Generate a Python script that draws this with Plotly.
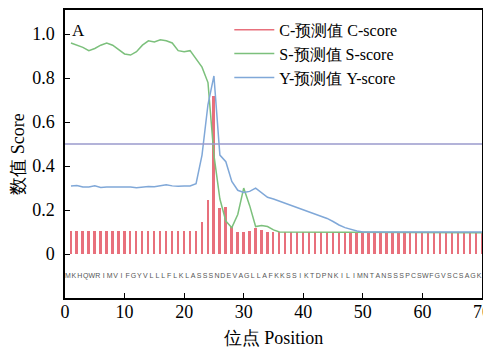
import plotly.graph_objects as go

positions = list(range(1, 71))
sequence = "MKHQWRIMVIFGYVLLLFLKLASSSNDEVAGLLAFKKSSIKTDPNKILIMNTANSSSPCSWFGVSCSAGK"

c_score = [0.105] * 21 + [0.105, 0.147, 0.245, 0.72, 0.21, 0.215, 0.124, 0.1, 0.1,
                          0.105, 0.12, 0.11] + [0.1] * 37

s_score = [0.96, 0.95, 0.94, 0.925, 0.935, 0.95, 0.96, 0.95, 0.93, 0.91,
           0.905, 0.92, 0.95, 0.97, 0.965, 0.975, 0.97, 0.96, 0.925, 0.92,
           0.925, 0.89, 0.85, 0.78, 0.45, 0.25, 0.15, 0.12, 0.18, 0.30,
           0.22, 0.125, 0.13, 0.125, 0.11, 0.1, 0.1, 0.1, 0.1, 0.1,
           0.1, 0.1, 0.1, 0.1, 0.1, 0.1, 0.1, 0.1, 0.1, 0.1,
           0.1, 0.1, 0.1, 0.1, 0.1, 0.1, 0.097, 0.097, 0.097, 0.097,
           0.097, 0.097, 0.097, 0.097, 0.097, 0.097, 0.097, 0.097, 0.097, 0.097]

y_score = [0.31, 0.312, 0.305, 0.305, 0.31, 0.303, 0.305, 0.305, 0.307, 0.308,
           0.305, 0.302, 0.305, 0.307, 0.306, 0.31, 0.315, 0.31, 0.308, 0.31,
           0.31, 0.32, 0.45, 0.68, 0.81, 0.45, 0.42, 0.33, 0.29, 0.28,
           0.285, 0.30, 0.28, 0.258, 0.25, 0.24, 0.232, 0.222, 0.212, 0.2,
           0.19, 0.18, 0.17, 0.162, 0.148, 0.132, 0.12, 0.112, 0.105, 0.1,
           0.1, 0.1, 0.1, 0.1, 0.1, 0.1, 0.1, 0.1, 0.1, 0.1,
           0.1, 0.1, 0.1, 0.1, 0.1, 0.1, 0.1, 0.1, 0.1, 0.1]

threshold = 0.5
seq_level = -0.1

x_ticks = [0, 10, 20, 30, 40, 50, 60, 70]
y_ticks = [0, 0.2, 0.4, 0.6, 0.8, 1.0]
y_tick_labels = ["0", "0.2", "0.4", "0.6", "0.8", "1.0"]

RED = "#e8707c"
GREEN = "#7cc07c"
BLUE = "#80a8d8"
SERIF = "Liberation Serif"

fig = go.Figure()

fig.add_trace(go.Bar(x=positions, y=c_score, width=0.32, marker=dict(color=RED, line=dict(width=0)),
                     showlegend=False))
fig.add_trace(go.Scatter(x=[None], y=[None], mode="lines", line=dict(color=RED, width=1.5),
                         name="C-预测值 C-score"))
fig.add_trace(go.Scatter(x=positions, y=s_score, mode="lines", line=dict(color=GREEN, width=1.5),
                         name="S-预测值 S-score"))
fig.add_trace(go.Scatter(x=positions, y=y_score, mode="lines", line=dict(color=BLUE, width=1.5),
                         name="Y-预测值 Y-score"))

fig.add_hline(y=threshold, line=dict(color="#9a9acc", width=1.5))

fig.add_trace(go.Scatter(x=[p - 0.5 for p in positions], y=[seq_level] * len(positions),
                         mode="text", text=list(sequence), showlegend=False,
                         textfont=dict(family="Liberation Sans", size=7, color="#555555"),
                         cliponaxis=True))

fig.add_annotation(x=0.012, y=0.93, xref="paper", yref="paper", text="A", showarrow=False,
                   xanchor="left", yanchor="middle", font=dict(family=SERIF, size=17, color="black"))

axis_common = dict(showline=True, linecolor="black", linewidth=1.5, mirror=True, automargin=False,
                   ticks="inside", ticklen=5, tickcolor="black", showgrid=False, zeroline=False,
                   tickfont=dict(family=SERIF, size=18, color="black"))

# page body adds an 8px offset, so the figure is sized to fit the 491x351 window
fig.update_layout(
    width=483, height=343,
    margin=dict(l=57, r=9, t=2, b=53),
    plot_bgcolor="white", paper_bgcolor="white",
    bargap=0,
    font=dict(family=SERIF),
    xaxis=dict(range=[0, 70], tickvals=x_ticks, **axis_common, ticklabelstandoff=-3,
               title=dict(text="位点 Position", font=dict(family=SERIF, size=18, color="black"), standoff=10)),
    yaxis=dict(range=[-0.2, 1.11], tickvals=y_ticks, ticktext=y_tick_labels, **axis_common,
               ticklabelstandoff=5,
               title=dict(text="数值 Score", font=dict(family=SERIF, size=18, color="black"), standoff=13)),
    legend=dict(x=0.394, y=0.99, xanchor="left", yanchor="top", bgcolor="rgba(0,0,0,0)",
                font=dict(family=SERIF, size=16, color="black"), tracegroupgap=0, itemwidth=40),
)

fig.write_html("out.html")
